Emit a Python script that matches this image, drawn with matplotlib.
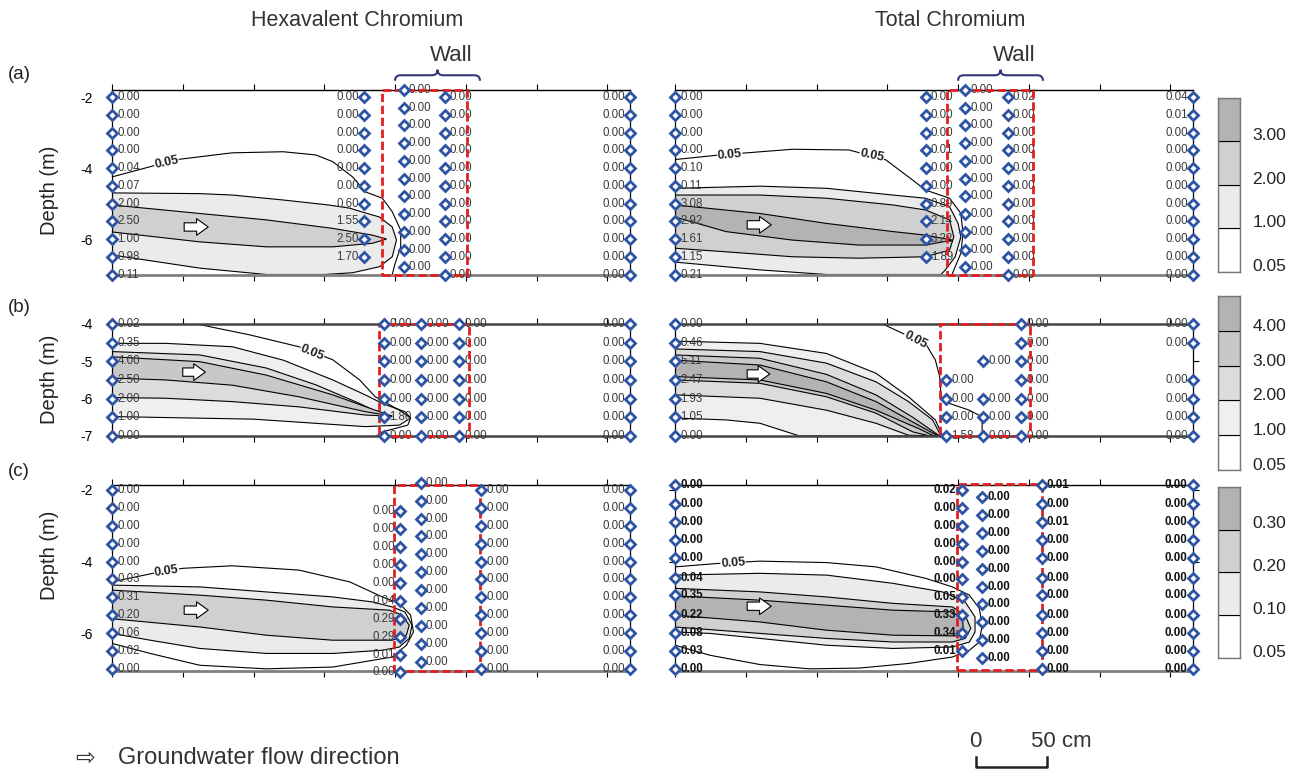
import matplotlib.pyplot as plt
import matplotlib.transforms as mtransforms
from matplotlib.patches import Polygon, Rectangle, PathPatch
from matplotlib.path import Path

plt.rcParams['font.family'] = ['Liberation Sans', 'DejaVu Sans']

X_MAX = 366
X_TICKS = [0, 50, 100, 150, 200, 250, 300, 350]

# sampling depths (m)
D_FULL = [-2.0, -2.5, -3.0, -3.5, -4.0, -4.5, -5.0, -5.5, -6.0, -6.5, -7.0]
D_UPPER = [-2.0, -2.5, -3.0, -3.5, -4.0, -4.5, -5.0, -5.5, -6.0, -6.5]
D_SHIFT = [-1.8, -2.3, -2.8, -3.3, -3.8, -4.3, -4.8, -5.3, -5.8, -6.3, -6.8]
D_ROW_B = [-4.0, -4.5, -5.0, -5.5, -6.0, -6.5, -7.0]
D_LOW = [-2.6, -3.1, -3.6, -4.1, -4.6, -5.1, -5.6, -6.1, -6.6, -7.1]
D_TC_EDGE = [-1.85, -2.4, -2.9, -3.4, -3.9, -4.45, -4.95, -5.5, -6.0, -6.5, -7.0]
D_TC_MID = [-2.2, -2.7, -3.2, -3.7, -4.2, -4.7, -5.2, -5.7, -6.2, -6.7]

# ---------------- (a) hexavalent ----------------
HEX_A_X = [0, 178, 206, 235, 366]
HEX_A_D = [D_FULL, D_UPPER, D_SHIFT, D_FULL, D_FULL]
HEX_A_V = [[0.00, 0.00, 0.00, 0.00, 0.04, 0.07, 2.00, 2.50, 1.00, 0.98, 0.11],
           [0.00, 0.00, 0.00, 0.00, 0.00, 0.00, 0.60, 1.55, 2.50, 1.70],
           [0.00, 0.00, 0.00, 0.00, 0.00, 0.00, 0.00, 0.00, 0.00, 0.00, 0.00],
           [0.00, 0.00, 0.00, 0.00, 0.00, 0.00, 0.00, 0.00, 0.00, 0.00, 0.00],
           [0.00, 0.00, 0.00, 0.00, 0.00, 0.00, 0.00, 0.00, 0.00, 0.00, 0.00]]
HEX_A_SIDE = ['r', 'l', 'r', 'r', 'l']
HEX_A_L005 = ([0, 29, 48, 85, 121, 144, 156, 170, 179, 191, 198, 204, 204, 200, 198],
              [-4.25, -3.94, -3.75, -3.57, -3.54, -3.63, -3.82, -4.25, -4.67, -4.85, -5.23, -5.75, -6.22, -6.69, -7.0])
HEX_A_R1 = ([0, 62, 85, 121, 153, 168, 177, 189, 198, 201, 198, 189, 170, 150, 109, 62, 0],
            [-4.70, -4.72, -4.76, -4.90, -5.04, -5.13, -5.24, -5.38, -5.66, -6.03, -6.50, -6.78, -6.95, -7.0, -7.0, -6.82, -6.45])
HEX_A_R2 = ([0, 62, 109, 156, 184, 194, 184, 156, 109, 62, 0],
            [-5.04, -5.28, -5.46, -5.70, -5.89, -6.00, -6.12, -6.22, -6.22, -6.08, -5.80])
HEX_A_LABELS = [(38.5, -3.84, 12)]
HEX_A_ARROW = (51, 68, -5.66)
HEX_A_WALL = (191, 251, -7.0, -1.8)

# ---------------- (a) total ----------------
TOT_A_X = [0, 177, 205, 235, 366]
TOT_A_D = [D_FULL, D_UPPER, D_SHIFT, D_FULL, D_FULL]
TOT_A_V = [[0.00, 0.00, 0.00, 0.00, 0.10, 0.11, 3.08, 2.92, 1.61, 1.15, 0.21],
           [0.00, 0.00, 0.00, 0.01, 0.00, 0.00, 0.89, 2.14, 3.22, 1.89],
           [0.00, 0.00, 0.00, 0.00, 0.00, 0.00, 0.00, 0.00, 0.00, 0.00, 0.00],
           [0.02, 0.00, 0.00, 0.00, 0.00, 0.00, 0.00, 0.00, 0.00, 0.00, 0.00],
           [0.04, 0.01, 0.00, 0.00, 0.00, 0.00, 0.00, 0.00, 0.00, 0.00, 0.00]]
TOT_A_SIDE = ['r', 'r', 'r', 'r', 'l']
TOT_A_L005 = ([0, 31.7, 83, 123, 149, 168, 177, 194, 202, 203.5, 202, 196],
              [-3.76, -3.63, -3.47, -3.49, -3.77, -4.34, -4.62, -4.85, -5.28, -5.84, -6.40, -6.97])
TOT_A_R1 = ([0, 60, 107, 154, 177, 194, 200, 202, 198, 191, 188, 107, 60, 0],
            [-4.57, -4.51, -4.57, -4.76, -4.85, -5.09, -5.56, -5.94, -6.50, -6.87, -7.0, -7.0, -6.87, -6.65])
TOT_A_R2 = ([0, 60, 107, 154, 177, 194, 197, 194, 177, 130, 83, 36, 0],
            [-4.76, -4.76, -4.85, -5.04, -5.18, -5.46, -5.94, -6.31, -6.50, -6.54, -6.50, -6.36, -6.26])
TOT_A_R3 = ([0, 60, 107, 154, 177, 196, 177, 130, 83, 36, 0],
            [-5.04, -5.28, -5.56, -5.79, -5.89, -6.03, -6.17, -6.17, -6.03, -5.79, -5.38])
TOT_A_LABELS = [(38.7, -3.62, 5), (139, -3.66, -12)]
TOT_A_ARROW = (51, 68, -5.6)
TOT_A_WALL = (192.4, 252.7, -7.0, -1.8)

# ---------------- (b) hexavalent ----------------
HEX_B_X = [0, 192, 218.5, 245, 366]
HEX_B_D = [D_ROW_B, D_ROW_B, D_ROW_B, D_ROW_B, D_ROW_B]
HEX_B_V = [[0.02, 0.35, 4.00, 2.50, 2.00, 1.00, 0.00],
           [0.00, 0.00, 0.00, 0.00, 0.00, 1.80, 0.00],
           [0.00, 0.00, 0.00, 0.00, 0.00, 0.00, 0.00],
           [0.00, 0.00, 0.00, 0.00, 0.00, 0.00, 0.00],
           [0.00, 0.00, 0.00, 0.00, 0.00, 0.00, 0.00]]
HEX_B_SIDE = ['r', 'r', 'r', 'r', 'l']
HEX_B_L005 = ([59.6, 97, 132, 156, 175, 186, 203, 211, 209, 191, 187],
              [-4.0, -4.29, -4.61, -4.96, -5.5, -5.95, -6.31, -6.52, -6.71, -6.89, -7.0])
HEX_B_R1 = ([0, 38, 85, 121, 156, 179, 191, 207, 211, 203, 179, 100, 0],
            [-4.52, -4.52, -4.61, -4.97, -5.5, -5.9, -6.13, -6.35, -6.52, -6.71, -6.75, -6.55, -6.48])
HEX_B_R2 = ([0, 62, 109, 144, 175, 189, 198, 179, 132, 85, 38, 0],
            [-4.74, -4.83, -5.18, -5.63, -6.13, -6.39, -6.47, -6.44, -6.22, -6.08, -5.99, -5.97])
HEX_B_R3 = ([0, 62, 109, 156, 189, 198, 179, 132, 85, 38, 0],
            [-4.88, -5.01, -5.37, -5.9, -6.35, -6.47, -6.35, -5.95, -5.64, -5.5, -5.45])
HEX_B_LABELS = [(141.5, -4.76, -22)]
HEX_B_ARROW = (50, 66, -5.29)
HEX_B_WALL = (189, 252, -7.0, -4.0)

# ---------------- (b) total ----------------
TOT_B_X = [0, 191.7, 217.5, 244.5, 366]
TOT_B_D = [D_ROW_B, [-5.5, -6.0, -6.5, -7.0], [-5.0, -6.0, -6.5, -7.0], D_ROW_B,
           [-4.0, -4.5, -5.5, -6.0, -6.5, -7.0]]
TOT_B_V = [[0.00, 0.46, 5.11, 2.47, 1.93, 1.05, 0.00],
           [0.00, 0.00, 0.00, 1.58],
           [0.00, 0.00, 0.00, 0.00],
           [0.00, 0.00, 0.00, 0.00, 0.00, 0.00, 0.00],
           [0.00, 0.00, 0.00, 0.00, 0.00, 0.00]]
TOT_B_SIDE = ['r', 'r', 'r', 'r', 'l']
TOT_B_L005 = ([146.6, 163, 177, 184, 187, 188, 194, 208, 217, 217, 217],
              [-4.0, -4.29, -4.52, -4.97, -5.41, -5.95, -6.13, -6.31, -6.49, -6.84, -7.0])
TOT_B_R1 = ([0, 60, 107, 142, 165, 184, 189, 88, 60, 36, 0],
            [-4.46, -4.52, -4.79, -5.32, -5.95, -6.57, -7.0, -7.0, -6.66, -6.57, -6.52])
TOT_B_R2 = ([0, 60, 107, 142, 165, 182, 188, 165, 142, 107, 60, 0],
            [-4.67, -4.74, -5.05, -5.55, -6.08, -6.57, -7.0, -6.98, -6.66, -6.31, -5.99, -5.9])
TOT_B_R3 = ([0, 60, 107, 142, 168, 187, 180, 168, 142, 107, 60, 0],
            [-4.83, -4.92, -5.35, -5.90, -6.50, -7.0, -7.0, -6.89, -6.39, -5.95, -5.59, -5.5])
TOT_B_R4 = ([0, 60, 107, 142, 172, 186, 183, 172, 142, 107, 60, 0],
            [-4.97, -5.10, -5.55, -6.08, -6.71, -7.0, -7.0, -6.80, -6.31, -5.86, -5.5, -5.41])
TOT_B_LABELS = [(170, -4.42, -28)]
TOT_B_ARROW = (51, 67, -5.34)
TOT_B_WALL = (187.3, 250.6, -7.0, -4.0)

# ---------------- (c) hexavalent ----------------
HEX_C_X = [0, 203.5, 218, 261, 366]
HEX_C_D = [D_FULL, D_LOW, D_SHIFT, D_FULL, D_FULL]
HEX_C_V = [[0.00, 0.00, 0.00, 0.00, 0.00, 0.03, 0.31, 0.20, 0.06, 0.02, 0.00],
           [0.00, 0.00, 0.00, 0.00, 0.00, 0.04, 0.29, 0.29, 0.01, 0.00],
           [0.00, 0.00, 0.00, 0.00, 0.00, 0.00, 0.00, 0.00, 0.00, 0.00, 0.00],
           [0.00, 0.00, 0.00, 0.00, 0.00, 0.00, 0.00, 0.00, 0.00, 0.00, 0.00],
           [0.00, 0.00, 0.00, 0.00, 0.00, 0.00, 0.00, 0.00, 0.00, 0.00, 0.00]]
HEX_C_SIDE = ['r', 'l', 'r', 'r', 'l']
HEX_C_L005 = ([0, 29, 50, 85, 132, 168, 191, 203, 211, 213, 208, 198, 156, 109, 62, 27, 0],
              [-4.57, -4.33, -4.19, -4.12, -4.24, -4.57, -4.99, -5.17, -5.5, -5.97, -6.34, -6.67, -6.95, -7.0, -6.9, -6.57, -6.29])
HEX_C_R1 = ([0, 62, 109, 156, 184, 198, 207, 212, 210, 203, 191, 156, 109, 62, 27, 0],
            [-4.66, -4.71, -4.85, -4.99, -5.13, -5.27, -5.41, -5.78, -6.15, -6.39, -6.48, -6.57, -6.57, -6.43, -6.2, -6.01])
HEX_C_R2 = ([0, 62, 109, 156, 196, 205, 210, 208, 198, 156, 109, 62, 0],
            [-4.80, -4.94, -5.08, -5.27, -5.36, -5.5, -5.78, -6.06, -6.2, -6.2, -6.06, -5.83, -5.6])
HEX_C_LABELS = [(38.5, -4.27, 8)]
HEX_C_ARROW = (51, 68, -5.36)
HEX_C_WALL = (199, 260, -7.07, -1.86)

# ---------------- (c) total ----------------
TOT_C_X = [0, 202.5, 217, 259, 366]
TOT_C_D = [D_TC_EDGE, D_UPPER, D_TC_MID, D_TC_EDGE, D_TC_EDGE]
TOT_C_V = [[0.00, 0.00, 0.00, 0.00, 0.00, 0.04, 0.35, 0.22, 0.08, 0.03, 0.00],
           [0.02, 0.00, 0.00, 0.00, 0.00, 0.00, 0.05, 0.33, 0.34, 0.01],
           [0.00, 0.00, 0.00, 0.00, 0.00, 0.00, 0.00, 0.00, 0.00, 0.00],
           [0.01, 0.00, 0.01, 0.00, 0.00, 0.00, 0.00, 0.00, 0.00, 0.00, 0.00],
           [0.00, 0.00, 0.00, 0.00, 0.00, 0.00, 0.00, 0.00, 0.00, 0.00, 0.00]]
TOT_C_SIDE = ['r', 'l', 'r', 'r', 'l']
TOT_C_L005 = ([0, 31.7, 60, 107, 142, 177, 196, 208, 215, 217, 215, 208, 196, 165, 130, 95, 60, 24.6, 0],
              [-4.15, -4.05, -3.99, -4.03, -4.15, -4.47, -4.71, -4.94, -5.31, -5.78, -6.25, -6.48, -6.67, -6.85, -6.98, -7.0, -6.88, -6.62, -6.34])
TOT_C_R1 = ([0, 60, 107, 154, 189, 205, 212, 212, 208, 196, 154, 107, 60, 24.6, 0],
            [-4.38, -4.33, -4.38, -4.61, -4.85, -5.13, -5.55, -5.97, -6.25, -6.39, -6.43, -6.34, -6.15, -6.01, -5.97])
TOT_C_R2 = ([0, 60, 107, 154, 196, 205, 209, 205, 196, 154, 107, 60, 0],
            [-4.75, -4.85, -4.99, -5.17, -5.27, -5.5, -5.87, -6.15, -6.25, -6.25, -6.15, -6.01, -5.83])
TOT_C_R3 = ([0, 60, 107, 154, 196, 203, 204, 198, 154, 107, 60, 0],
            [-4.96, -5.08, -5.22, -5.36, -5.41, -5.6, -5.97, -6.08, -6.06, -5.92, -5.69, -5.5])
TOT_C_LABELS = [(41, -4.05, 4)]
TOT_C_ARROW = (51, 68, -5.25)
TOT_C_WALL = (199, 259, -7.04, -1.84)

# colour scales
CBAR_A = [0.05, 1.00, 2.00, 3.00]
CBAR_B = [0.05, 1.00, 2.00, 3.00, 4.00]
CBAR_C = [0.05, 0.10, 0.20, 0.30]
GREYS_4 = ['white', '#ebebeb', '#d0d0d0', '#b3b3b3']
GREYS_5 = ['white', '#efefef', '#dcdcdc', '#c8c8c8', '#b3b3b3']

BRACE_SPAN = (200, 260)
SCALE_BAR = (212.5, 50)

MARKER_COLOR = '#2d54a3'
WALL_COLOR = '#e02020'


def draw_points(ax, cols_x, cols_d, cols_v, sides, bold):
    for x, ds, vs, side in zip(cols_x, cols_d, cols_v, sides):
        ax.plot([x] * len(ds), ds, ls='none', marker='D', ms=4.8, mfc='white',
                mec=MARKER_COLOR, mew=2.0, clip_on=False, zorder=6)
        off = 3.8 if side == 'r' else -3.8
        ha = 'left' if side == 'r' else 'right'
        for d, v in zip(ds, vs):
            ax.annotate('%.2f' % v, (x, d), xytext=(off, 0), textcoords='offset points',
                        ha=ha, va='center', fontsize=8.3,
                        color='#111111' if bold else '#3a3a3a',
                        fontweight='bold' if bold else 'normal',
                        annotation_clip=False, zorder=3)


def draw_regions(ax, regions, colors, line005, labels):
    for reg, col in zip(regions, colors[1:]):
        ax.add_patch(Polygon(list(zip(reg[0], reg[1])), closed=True, fc=col,
                             ec='black', lw=0.8, zorder=1))
    ax.plot(line005[0], line005[1], color='black', lw=0.8, zorder=1.5)
    for x, d, rot in labels:
        ax.text(x, d, '0.05', rotation=rot, ha='center', va='center', fontsize=9,
                fontweight='bold', color='#222222', zorder=2,
                bbox=dict(fc='white', ec='none', pad=0.3))


def draw_brace(ax, x0, x1):
    tr = mtransforms.blended_transform_factory(ax.transData, ax.transAxes)
    xm = (x0 + x1) / 2
    q = 4
    y0, y1, y2 = 1.05, 1.08, 1.11
    verts = [(x0, y0), (x0, y1), (x0 + q, y1), (xm - q, y1), (xm, y1), (xm, y2),
             (xm, y1), (xm + q, y1), (x1 - q, y1), (x1, y1), (x1, y0)]
    codes = [Path.MOVETO, Path.CURVE3, Path.CURVE3, Path.LINETO, Path.CURVE3, Path.CURVE3,
             Path.CURVE3, Path.CURVE3, Path.LINETO, Path.CURVE3, Path.CURVE3]
    ax.add_patch(PathPatch(Path(verts, codes), fill=False, ec='#35357a', lw=1.5,
                           transform=tr, clip_on=False))
    ax.text(xm + 10, 1.185, 'Wall', transform=tr, ha='center', va='center',
            fontsize=16, color='#333333')


def draw_panel(ax, row, cols_x, cols_d, cols_v, sides, regions, colors, line005,
               labels, arrow, wall, ylim, yticks, show_ylabels, bold=False):
    ax.set_xlim(0, X_MAX)
    ax.set_ylim(*ylim)
    draw_regions(ax, regions, colors, line005, labels)
    ax.annotate('', xy=(arrow[1], arrow[2]), xytext=(arrow[0], arrow[2]),
                arrowprops=dict(arrowstyle='simple,head_length=0.7,head_width=1.0,tail_width=0.5',
                                fc='white', ec='black', lw=0.8, shrinkA=0, shrinkB=0,
                                mutation_scale=12), zorder=2)
    ax.add_patch(Rectangle((wall[0], wall[2]), wall[1] - wall[0], wall[3] - wall[2],
                           fill=False, ec=WALL_COLOR, lw=2, ls=(0, (3, 1.3)),
                           zorder=4, clip_on=False))
    draw_points(ax, cols_x, cols_d, cols_v, sides, bold)

    ax.set_xticks(X_TICKS)
    ax.set_yticks(yticks)
    ax.set_yticklabels(['%d' % t for t in yticks])
    ax.tick_params(axis='x', top=True, bottom=True, direction='out', length=4,
                   labelbottom=False, width=0.8)
    ax.tick_params(axis='y', left=True, right=True, direction='out', length=4,
                   labelleft=show_ylabels, labelsize=10, pad=10, width=0.8)
    for s in ('left', 'right'):
        ax.spines[s].set_linewidth(0.9)
        ax.spines[s].set_color('black')
    if row == 'b':
        for s in ('top', 'bottom'):
            ax.spines[s].set_linewidth(1.8)
            ax.spines[s].set_color('#444444')
    else:
        ax.spines['top'].set_linewidth(1.0)
        ax.spines['top'].set_color('black')
        ax.spines['bottom'].set_linewidth(2.0)
        ax.spines['bottom'].set_color('#808080')


def draw_colorbar(fig, rect, levels, colors):
    cax = fig.add_axes(rect)
    n = len(levels)
    cax.bar([0] * n, [1] * n, bottom=list(range(n)), width=1, color=colors,
            edgecolor='black', linewidth=0.8)
    cax.set_xlim(-0.5, 0.5)
    cax.set_ylim(0, n)
    cax.set_xticks([])
    cax.yaxis.tick_right()
    cax.set_yticks([i + 0.17 for i in range(n)])
    cax.set_yticklabels(['%.2f' % v for v in levels])
    cax.tick_params(axis='y', length=0, pad=9, labelsize=12.5, labelcolor='#222222')
    for s in cax.spines.values():
        s.set_color('#777777')
        s.set_linewidth(1.0)


def main():
    fig = plt.figure(figsize=(12.91, 7.70), dpi=100)
    col_left = [112 / 1291, 675 / 1291]
    ax_w = 518 / 1291
    rows = {'a': (0.6435, 0.2396), 'b': (0.4338, 0.1455), 'c': (0.1286, 0.2416)}

    panels = [
        ('a', 0, HEX_A_X, HEX_A_D, HEX_A_V, HEX_A_SIDE, [HEX_A_R1, HEX_A_R2], GREYS_4,
         HEX_A_L005, HEX_A_LABELS, HEX_A_ARROW, HEX_A_WALL, (-7, -1.8), [-2, -4, -6], False),
        ('a', 1, TOT_A_X, TOT_A_D, TOT_A_V, TOT_A_SIDE, [TOT_A_R1, TOT_A_R2, TOT_A_R3], GREYS_4,
         TOT_A_L005, TOT_A_LABELS, TOT_A_ARROW, TOT_A_WALL, (-7, -1.8), [-2, -4, -6], False),
        ('b', 0, HEX_B_X, HEX_B_D, HEX_B_V, HEX_B_SIDE, [HEX_B_R1, HEX_B_R2, HEX_B_R3], GREYS_5,
         HEX_B_L005, HEX_B_LABELS, HEX_B_ARROW, HEX_B_WALL, (-7, -4), [-4, -5, -6, -7], False),
        ('b', 1, TOT_B_X, TOT_B_D, TOT_B_V, TOT_B_SIDE, [TOT_B_R1, TOT_B_R2, TOT_B_R3, TOT_B_R4],
         GREYS_5, TOT_B_L005, TOT_B_LABELS, TOT_B_ARROW, TOT_B_WALL, (-7, -4), [-4, -5, -6, -7], False),
        ('c', 0, HEX_C_X, HEX_C_D, HEX_C_V, HEX_C_SIDE, [HEX_C_R1, HEX_C_R2], GREYS_4,
         HEX_C_L005, HEX_C_LABELS, HEX_C_ARROW, HEX_C_WALL, (-7.06, -1.86), [-2, -4, -6], False),
        ('c', 1, TOT_C_X, TOT_C_D, TOT_C_V, TOT_C_SIDE, [TOT_C_R1, TOT_C_R2, TOT_C_R3], GREYS_4,
         TOT_C_L005, TOT_C_LABELS, TOT_C_ARROW, TOT_C_WALL, (-7.06, -1.86), [-2, -4, -6], True),
    ]

    axes = {}
    for (row, col, cx, cd, cv, sides, regs, greys, l005, labs, arr, wall, ylim, yt, bold) in panels:
        bottom, height = rows[row]
        ax = fig.add_axes([col_left[col], bottom, ax_w, height])
        draw_panel(ax, row, cx, cd, cv, sides, regs, greys, l005, labs, arr, wall,
                   ylim, yt, col == 0, bold)
        axes[(row, col)] = ax

    for col in (0, 1):
        draw_brace(axes[('a', col)], BRACE_SPAN[0], BRACE_SPAN[1])

    draw_colorbar(fig, [1218 / 1291, 0.6468, 0.0170, 0.226], CBAR_A, GREYS_4)
    draw_colorbar(fig, [1218 / 1291, 0.3896, 0.0170, 0.226], CBAR_B, GREYS_5)
    draw_colorbar(fig, [1218 / 1291, 0.1455, 0.0170, 0.222], CBAR_C, GREYS_4)

    fig.text(0.277, 0.974, 'Hexavalent Chromium', ha='center', va='center',
             fontsize=15.5, color='#333333')
    fig.text(0.736, 0.974, 'Total Chromium', ha='center', va='center',
             fontsize=15.5, color='#333333')
    for lab, y in (('(a)', 0.903), ('(b)', 0.601), ('(c)', 0.388)):
        fig.text(0.006, y, lab, va='center', fontsize=13.5, color='#222222')
    for y in (0.753, 0.508, 0.279):
        fig.text(0.0387, y, 'Depth (m)', rotation=90, ha='center', va='center',
                 fontsize=14.5, color='#222222')

    fig.text(0.058, 0.0156, '\u21e8', va='center', fontsize=17, color='#333333',
             family=['DejaVu Sans'])
    fig.text(0.0914, 0.0156, 'Groundwater flow direction', va='center',
             fontsize=17, color='#333333')

    # 50 cm scale bar drawn in the data units of the bottom-right panel
    ax = axes[('c', 1)]
    tr = mtransforms.blended_transform_factory(ax.transData, ax.transAxes)
    x0, length = SCALE_BAR
    ax.plot([x0, x0, x0 + length, x0 + length], [-0.46, -0.515, -0.515, -0.46],
            transform=tr, color='#222222', lw=1.8, clip_on=False)
    ax.text(x0, -0.38, '0', transform=tr, ha='center', va='center', fontsize=16,
            color='#333333')
    ax.text(x0 + length - 11, -0.38, '50 cm', transform=tr, ha='left', va='center',
            fontsize=16, color='#333333')

    fig.savefig('out.png', dpi=100)


if __name__ == '__main__':
    main()
